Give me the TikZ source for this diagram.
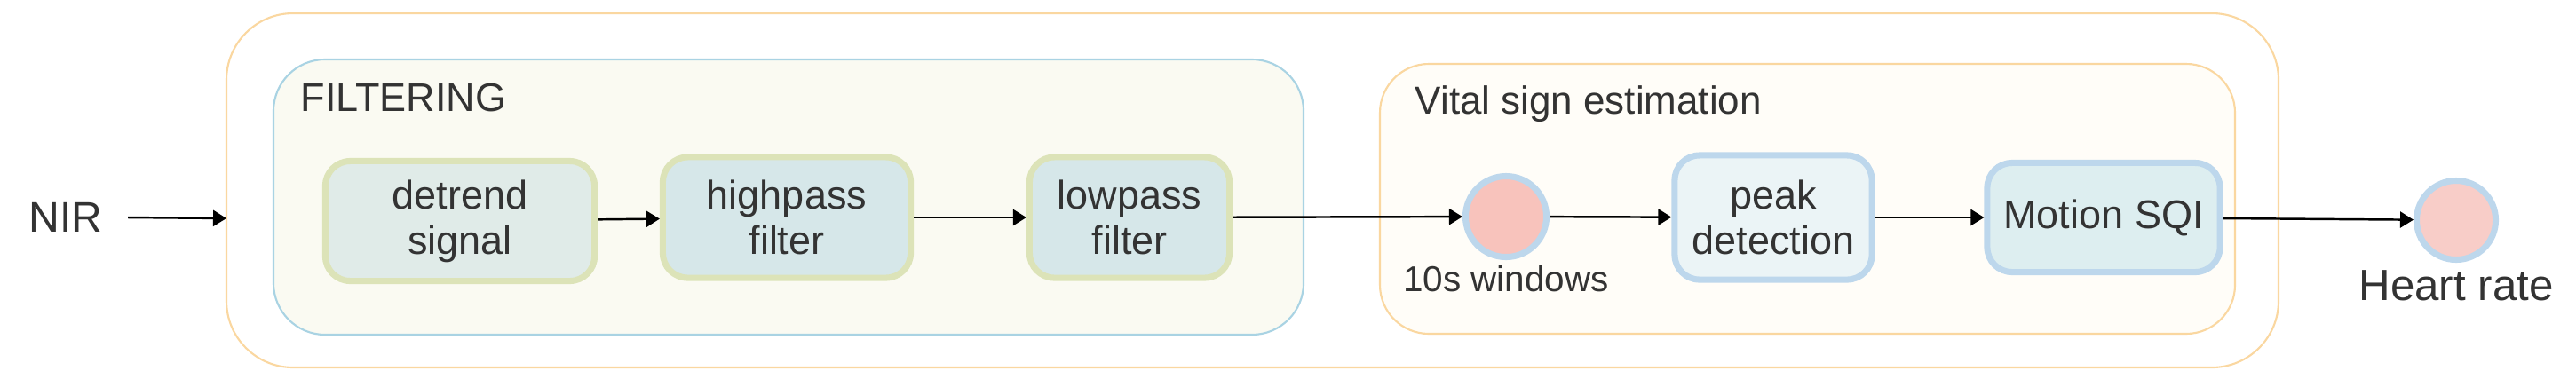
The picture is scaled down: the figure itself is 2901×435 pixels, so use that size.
\documentclass[tikz,border=0pt]{standalone}
\usepackage{fontspec}
\setmainfont{Liberation Sans}
\usetikzlibrary{arrows.meta}
\definecolor{txtgrey}{HTML}{333333}
\definecolor{outerline}{HTML}{FAD7A0}
\definecolor{filtline}{HTML}{A9D3E3}
\definecolor{filtfill}{HTML}{FAFAF2}
\definecolor{vitalfill}{HTML}{FFFDF8}
\definecolor{stepgreen}{HTML}{DCE3B8}
\definecolor{stepblue}{HTML}{BDD7EC}
\definecolor{detrendfill}{HTML}{E0EBE8}
\definecolor{passfill}{HTML}{D6E7E9}
\definecolor{peakfill}{HTML}{EBF4F6}
\definecolor{sqifill}{HTML}{DDEEF0}
\definecolor{dotpink}{HTML}{F8C3BC}
\definecolor{hrpink}{HTML}{F8CDC8}
\tikzset{
  stepbox/.style={line width=2pt,rounded corners=0.28cm,align=center,inner sep=0pt,
    font=\fontsize{12.8}{14.5}\selectfont,text=txtgrey},
  filtstep/.style={stepbox,draw=stepgreen,fill=passfill},
  vitalstep/.style={stepbox,draw=stepblue,fill=sqifill},
  dot/.style={circle,draw=stepblue,fill=dotpink,line width=2pt,inner sep=0pt,minimum size=0.91cm},
  lbl/.style={text=txtgrey,inner sep=0pt},
  flow/.style={line width=0.7pt,-{Triangle[length=0.15cm,width=0.18cm]}}
}
\begin{document}
\begin{tikzpicture}[x=0.01cm,y=0.01cm]
\useasboundingbox (0,0) rectangle (2901,435);
\draw [draw=outerline,line width=0.6pt,fill=white,rounded corners=0.75cm] (255,21) rectangle (2566,420);
\draw [draw=filtline,line width=0.6pt,fill=filtfill,rounded corners=0.58cm] (308,58) rectangle (1468,368);
\draw [draw=outerline,line width=0.6pt,fill=vitalfill,rounded corners=0.55cm] (1554,59) rectangle (2517,363);
\coordinate (outerin) at (255,189);

\node [lbl,font=\fontsize{13.7}{15}\selectfont] (nir) at (74,190) {NIR};
\node [lbl,font=\fontsize{12.8}{15}\selectfont,anchor=base west] (filttitle) at (338,310) {FILTERING};
\node [lbl,font=\fontsize{12.5}{15}\selectfont,anchor=base west] (vitaltitle) at (1593,307) {Vital sign estimation};

\node [filtstep,fill=detrendfill,minimum width=3.03cm,minimum height=1.35cm] (detrend) at (518,186) {detrend\\signal};
\node [filtstep,minimum width=2.79cm,minimum height=1.36cm] (highpass) at (886,190) {highpass\\filter};
\node [filtstep,minimum width=2.25cm,minimum height=1.36cm] (lowpass) at (1272,190) {lowpass\\filter};

\node [dot] (win) at (1696,191) {};
\node [lbl,font=\fontsize{11.5}{14}\selectfont,anchor=base] (winlbl) at (1696,107) {10s windows};
\node [vitalstep,fill=peakfill,minimum width=2.22cm,minimum height=1.40cm] (peak) at (1997,190) {peak\\detection};
\node [vitalstep,minimum width=2.62cm,minimum height=1.23cm] (sqi) at (2369,190) {Motion SQI};

\node [dot,fill=hrpink,minimum size=0.89cm] (hr) at (2766,187) {};
\node [lbl,font=\fontsize{14}{16}\selectfont,anchor=base] (hrlbl) at (2766,97) {Heart rate};

\draw [flow] (nir.east) ++(28,0) -- (outerin);
\draw [flow] (detrend) -- (highpass);
\draw [flow] (highpass) -- (lowpass);
\draw [flow] (lowpass) -- (win);
\draw [flow] (win) -- (peak);
\draw [flow] (peak) -- (sqi);
\draw [flow] (sqi) -- (hr);
\end{tikzpicture}
\end{document}
